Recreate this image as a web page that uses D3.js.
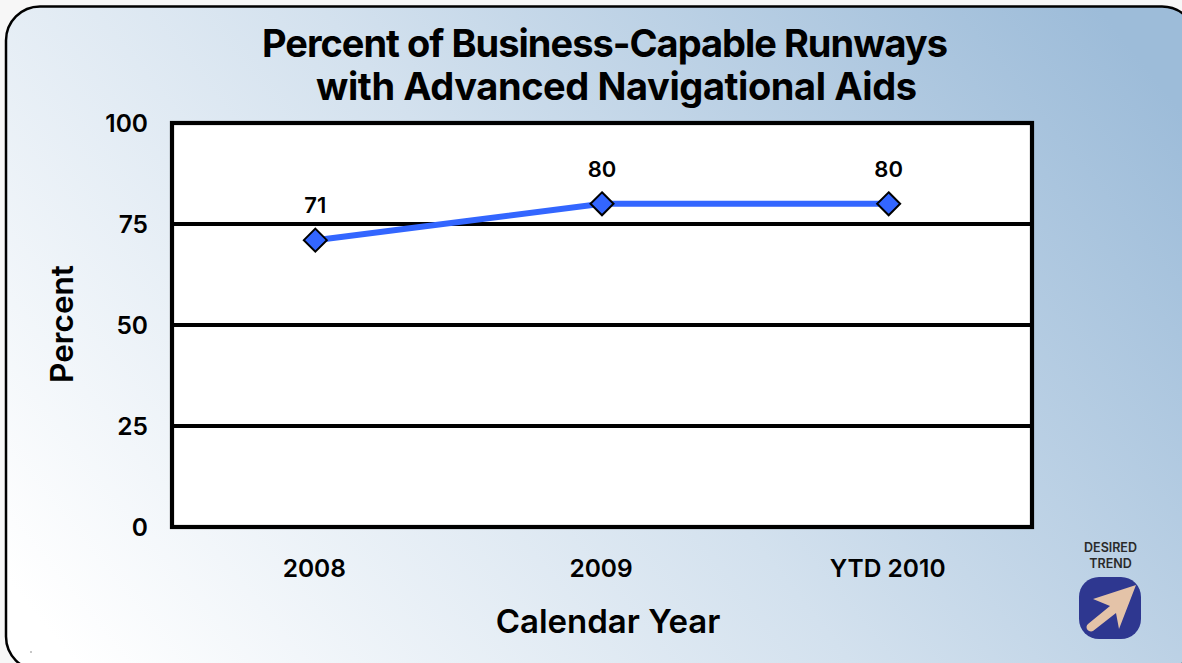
<!DOCTYPE html>
<html><head><meta charset="utf-8">
<script src="https://cdn.jsdelivr.net/npm/d3@7/dist/d3.min.js"></script>
<style>html,body{margin:0;padding:0;background:#fff;overflow:hidden}svg{display:block}
text{font-family:Inter,Lato,sans-serif;font-weight:600;fill:#000}</style></head><body>
<svg id="c" width="1182" height="663"></svg>
<script>
const categories = ["2008","2009","YTD 2010"];
const values = [71,80,80];
const yTicks = [0,25,50,75,100];
const titleLines = ["Percent of Business-Capable Runways","with Advanced Navigational Aids"];
const xTitle = "Calendar Year", yTitle = "Percent";
const trendLines = ["DESIRED","TREND"];

const svg = d3.select("#c");
const defs = svg.append("defs");
const g = defs.append("linearGradient").attr("id","bg").attr("gradientUnits","userSpaceOnUse")
  .attr("x1",120).attr("y1",720).attr("x2",1060).attr("y2",-40);
[[0,"#ffffff"],[0.5,"#d3e1ee"],[1,"#9dbcd9"]].forEach(s=>g.append("stop").attr("offset",s[0]).attr("stop-color",s[1]));

svg.append("rect").attr("width",1182).attr("height",663).attr("fill","#f7f7f7");
svg.append("rect").attr("x",6).attr("y",6.5).attr("width",1190).attr("height",664).attr("rx",34)
  .attr("fill","url(#bg)").attr("stroke","#000").attr("stroke-width",2.5);
svg.append("rect").attr("x",30.5).attr("y",651.5).attr("width",1).attr("height",1).attr("fill","#222");

const x = d3.scaleBand().domain(categories).range([172,1032]);
const y = d3.scaleLinear().domain([0,100]).range([527,123]);

svg.append("rect").attr("x",172).attr("y",123).attr("width",860).attr("height",404).attr("fill","#fff");
svg.append("g").selectAll("line").data(yTicks.filter(d=>d>0&&d<100)).join("line")
  .attr("x1",172).attr("x2",1032).attr("y1",d=>y(d)).attr("y2",d=>y(d))
  .attr("stroke","#000").attr("stroke-width",4);
svg.append("rect").attr("x",172).attr("y",123).attr("width",860).attr("height",404)
  .attr("fill","none").attr("stroke","#000").attr("stroke-width",4.2);

const ax = d3.axisLeft(y).tickValues(yTicks).tickSize(0).tickPadding(0);
const ay = svg.append("g").attr("transform","translate(148,0)").call(ax);
ay.select(".domain").remove();
ay.selectAll("text").attr("dy","0.36em").style("font-size","24.5px").style("font-family","Inter").style("font-weight",600);

const bx = d3.axisBottom(x).tickSize(0).tickPadding(0);
const ag = svg.append("g").attr("transform","translate(-1,560)").call(bx);
ag.select(".domain").remove();
ag.selectAll("text").attr("dy","0.71em").style("font-size","24.5px").style("font-family","Inter").style("font-weight",600);

const cx = d=>x(d)+x.bandwidth()/2;
const line = d3.line().x((d,i)=>cx(categories[i])).y(d=>y(d));
svg.append("path").datum(values).attr("d",line).attr("fill","none").attr("stroke","#3366ff").attr("stroke-width",6);
const r=11.5;
svg.append("g").selectAll("path").data(values).join("path")
  .attr("d",`M0,${-r}L${r},0L0,${r}L${-r},0Z`)
  .attr("transform",(d,i)=>`translate(${cx(categories[i])},${y(d)})`)
  .attr("fill","#3366ff").attr("stroke","#000").attr("stroke-width",2);
svg.append("g").selectAll("text").data(values).join("text")
  .attr("x",(d,i)=>cx(categories[i])).attr("y",d=>y(d)-27).attr("text-anchor","middle")
  .style("font-size","22px").text(d=>d);

svg.append("g").selectAll("text").data(titleLines).join("text")
  .attr("x",(d,i)=>i?616.5:605).attr("y",(d,i)=>57+i*43).attr("text-anchor","middle")
  .attr("textLength",(d,i)=>i?601:686).attr("lengthAdjust","spacing")
  .style("font-size","38px").style("font-weight",700).text(d=>d);
svg.append("text").attr("x",608).attr("y",633).attr("text-anchor","middle").style("font-size","33px").text(xTitle);
svg.append("text").attr("transform","translate(73,324) rotate(-90)").attr("text-anchor","middle").style("font-size","31.5px").text(yTitle);

svg.append("g").selectAll("text").data(trendLines).join("text")
  .attr("x",1110.5).attr("y",(d,i)=>552+i*16).attr("text-anchor","middle")
  .style("font-size","12.5px").style("fill","#2a2a2a").text(d=>d);
const tr = svg.append("g").attr("transform","translate(1079,577)");
tr.append("rect").attr("width",62).attr("height",62).attr("rx",20).attr("fill","#2e3790");
tr.append("path").attr("d","M57,8L14,22L31,29L9,47C5,51,10,56,14,54L37,36L40,52Z").attr("fill","#e4c3a8");
</script></body></html>
